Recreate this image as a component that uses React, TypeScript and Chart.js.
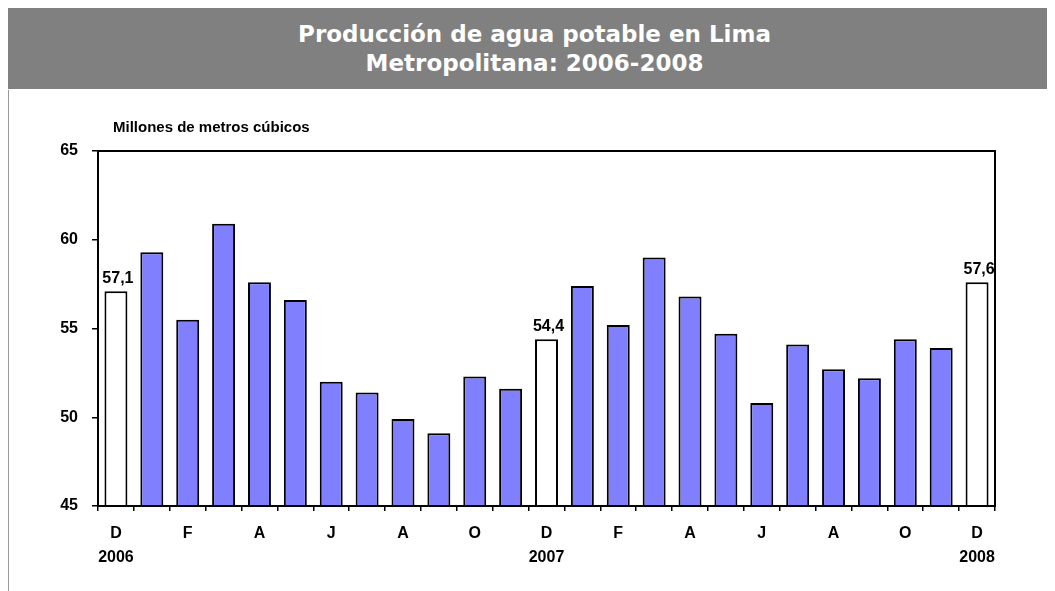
import React, { useEffect, useRef } from "react";
import { Chart, registerables } from "chart.js";

Chart.register(...registerables);

const titleLines = ["Producción de agua potable en Lima", "Metropolitana: 2006-2008"];
const unitLabel = "Millones de metros cúbicos";

const xLabels: (string | string[])[] = [
  ["D", "2006"], "", "F", "", "A", "", "J", "", "A", "", "O", "",
  ["D", "2007"], "", "F", "", "A", "", "J", "", "A", "", "O", "",
  ["D", "2008"],
];

const values = [
  57.1, 59.3, 55.5, 60.9, 57.6, 56.6, 52.0, 51.4, 49.9, 49.1, 52.3, 51.6,
  54.4, 57.4, 55.2, 59.0, 56.8, 54.7, 50.8, 54.1, 52.7, 52.2, 54.4, 53.9,
  57.6,
];

const labeledBars = [0, 12, 24];

const yMin = 45;
const yMax = 65;
const yStep = 5;

const FONT = "'Liberation Sans', Arial, sans-serif";

const overlayPlugin = {
  id: "overlay",
  afterDatasetsDraw(chart: any) {
    const { ctx, chartArea: a } = chart;
    ctx.save();
    ctx.strokeStyle = "#000";
    ctx.lineWidth = 2;
    ctx.strokeRect(a.left, a.top, a.right - a.left, a.bottom - a.top);
    ctx.fillStyle = "#000";
    ctx.font = `bold 16px ${FONT}`;
    ctx.textAlign = "center";
    ctx.textBaseline = "alphabetic";
    const meta = chart.getDatasetMeta(0);
    labeledBars.forEach((i) => {
      const el = meta.data[i];
      ctx.fillText(values[i].toFixed(1).replace(".", ","), el.x + 2, el.y - 8);
    });
    ctx.font = `bold 15px ${FONT}`;
    ctx.textAlign = "left";
    ctx.textBaseline = "middle";
    ctx.fillText(unitLabel, a.left + 15, a.top - 23);
    ctx.restore();
  },
};

export default function App() {
  const ref = useRef<HTMLCanvasElement>(null);
  useEffect(() => {
    if (!ref.current) return;
    const bg = values.map((_, i) => (labeledBars.includes(i) ? "#ffffff" : "#8080ff"));
    const chart = new Chart(ref.current, {
      type: "bar",
      data: {
        labels: xLabels as any,
        datasets: [
          {
            data: values,
            backgroundColor: bg,
            borderColor: "#000",
            borderWidth: 2,
            barPercentage: 0.64,
            categoryPercentage: 1,
          },
        ],
      },
      options: {
        responsive: false,
        animation: false,
        layout: { padding: { top: 61, right: 60, left: 0, bottom: 0 } },
        plugins: { legend: { display: false }, tooltip: { enabled: false }, title: { display: false } },
        scales: {
          x: {
            afterFit: (s: any) => {
              s.height = 85;
            },
            grid: { display: true, drawOnChartArea: false, tickLength: 5, color: "#000", lineWidth: 1.5, offset: true },
            border: { display: true, color: "#000", width: 2 },
            ticks: {
              autoSkip: false,
              maxRotation: 0,
              minRotation: 0,
              padding: 11,
              color: "#000",
              font: { family: FONT, size: 16, weight: "bold", lineHeight: 1.5 },
            },
          },
          y: {
            min: yMin,
            max: yMax,
            afterFit: (s: any) => {
              s.width = 90;
            },
            grid: { display: true, drawOnChartArea: false, tickLength: 6, color: "#000", lineWidth: 1.5 },
            border: { display: true, color: "#000", width: 2 },
            ticks: {
              stepSize: yStep,
              padding: 14,
              color: "#000",
              font: { family: FONT, size: 16, weight: "bold" },
            },
          },
        },
      },
      plugins: [overlayPlugin],
    });
    return () => chart.destroy();
  }, []);

  return (
    <div style={{ position: "relative", width: 1047, height: 583 }}>
      <div
        style={{
          position: "absolute",
          left: -1,
          top: -1,
          width: 1048,
          height: 82,
          background: "#808080",
          borderTop: "1px solid #d0d0d0",
          color: "#fff",
          fontFamily: "'DejaVu Sans', sans-serif",
          fontWeight: "bold",
          fontSize: 23,
          lineHeight: "29px",
          textAlign: "center",
          paddingTop: 12,
          paddingLeft: 7,
          boxSizing: "border-box",
        }}
      >
        <div>{titleLines[0]}</div>
        <div>{titleLines[1]}</div>
      </div>
      <div style={{ position: "absolute", left: -1, top: 82, width: 2, height: 501, background: "#999" }} />
      <canvas
        ref={ref}
        width={1047}
        height={501}
        style={{ position: "absolute", left: 0, top: 82, width: 1047, height: 501 }}
      />
    </div>
  );
}
